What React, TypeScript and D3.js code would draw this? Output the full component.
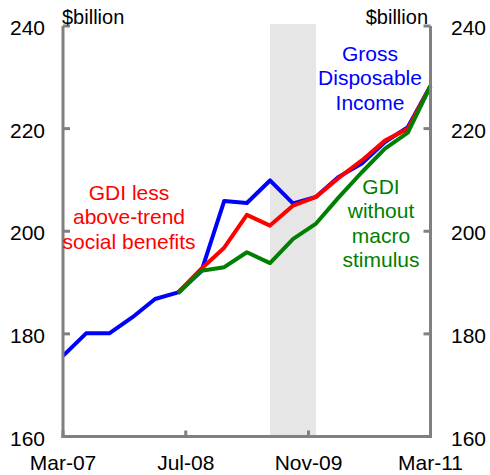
import React from "react";
import * as d3 from "d3";

// quarterly observations, Mar-07 .. Mar-11
const quarters = [
  "2007-03", "2007-06", "2007-09", "2007-12",
  "2008-03", "2008-06", "2008-09", "2008-12",
  "2009-03", "2009-06", "2009-09", "2009-12",
  "2010-03", "2010-06", "2010-09", "2010-12",
  "2011-03",
];

// Gross Disposable Income
const gdi = [175.7, 180.1, 180.1, 183.2, 186.8, 188.1, 192.2, 205.9, 205.5, 209.9, 205.4, 206.7, 210.6, 213.2, 217.4, 220.3, 228.3];
// GDI less above-trend social benefits
const gdiLessBenefits = [null, null, null, null, null, 188.1, 192.7, 196.8, 203.2, 201.1, 205.0, 206.7, 210.4, 213.8, 217.7, 220.0, 228.3];
// GDI without macro stimulus
const gdiNoStimulus = [null, null, null, null, null, 187.9, 192.3, 193.0, 195.9, 193.8, 198.5, 201.5, 206.6, 211.5, 216.1, 219.2, 228.3];

const shadedPeriod = ["2009-06", "2009-12"];
const xTicks = ["2007-03", "2008-07", "2009-11", "2011-03"];
const xTickLabels = ["Mar-07", "Jul-08", "Nov-09", "Mar-11"];
const yTicks = [160, 180, 200, 220, 240];

const series = [
  { name: "gdi", values: gdi, color: "#0000ff", label: ["Gross", "Disposable", "Income"], lx: 370, ly: 61 },
  { name: "less", values: gdiLessBenefits, color: "#ff0000", label: ["GDI less", "above-trend", "social benefits"], lx: 129, ly: 200 },
  { name: "nostim", values: gdiNoStimulus, color: "#008000", label: ["GDI", "without", "macro", "stimulus"], lx: 381, ly: 194 },
];

const parse = d3.timeParse("%Y-%m");
const font = "'Liberation Sans', Arial, sans-serif";

const App = () => {
  const svgRef = React.useRef(null);
  const width = 490;
  const height = 475;
  const left = 63, right = 430.5, top = 26, bottom = 436.5;

  React.useEffect(() => {
    const x = d3.scaleTime()
      .domain([parse(quarters[0]), parse(quarters[quarters.length - 1])])
      .range([left, right]);
    const y = d3.scaleLinear().domain([160, 240]).range([bottom, top]);

    const svg = d3.select(svgRef.current);
    svg.selectAll("*").remove();

    // shaded period
    svg.append("rect")
      .attr("x", x(parse(shadedPeriod[0])))
      .attr("y", top - 2)
      .attr("width", x(parse(shadedPeriod[1])) - x(parse(shadedPeriod[0])))
      .attr("height", bottom - top + 2)
      .attr("fill", "#e6e6e6");

    // lines
    const line = d3.line()
      .defined((d) => d != null)
      .x((d, i) => x(parse(quarters[i])))
      .y((d) => y(d));

    series.forEach((s) => {
      svg.append("path")
        .attr("fill", "none")
        .attr("stroke", s.color)
        .attr("stroke-width", 4)
        .attr("stroke-linejoin", "round")
        .attr("d", line(s.values));
    });

    // axes frame
    const axisColor = "#808080";
    const ax = svg.append("g").attr("stroke", axisColor).attr("stroke-width", 3);
    ax.append("line").attr("x1", left).attr("x2", left).attr("y1", top).attr("y2", bottom + 1.5);
    ax.append("line").attr("x1", right).attr("x2", right).attr("y1", top).attr("y2", bottom + 1.5);
    ax.append("line").attr("x1", left - 1.5).attr("x2", right + 1.5).attr("y1", bottom).attr("y2", bottom);

    yTicks.forEach((t) => {
      ax.append("line").attr("x1", left).attr("x2", left + 7).attr("y1", y(t)).attr("y2", y(t));
      ax.append("line").attr("x1", right).attr("x2", right - 7).attr("y1", y(t)).attr("y2", y(t));
    });
    xTicks.forEach((t) => {
      ax.append("line").attr("x1", x(parse(t))).attr("x2", x(parse(t))).attr("y1", bottom).attr("y2", bottom - 6);
    });

    // tick labels
    const txt = svg.append("g").attr("font-family", font).attr("fill", "#000");
    yTicks.forEach((t) => {
      txt.append("text").attr("x", 45).attr("y", y(t) + 9).attr("text-anchor", "end")
        .attr("font-size", 21).text(t);
      txt.append("text").attr("x", 451).attr("y", y(t) + 9).attr("text-anchor", "start")
        .attr("font-size", 21).text(t);
    });
    xTicks.forEach((t, i) => {
      txt.append("text").attr("x", x(parse(t))).attr("y", 470).attr("text-anchor", "middle")
        .attr("font-size", 21).text(xTickLabels[i]);
    });
    txt.append("text").attr("x", 62).attr("y", 24).attr("font-size", 20).text("$billion");
    txt.append("text").attr("x", 428).attr("y", 24).attr("text-anchor", "end").attr("font-size", 20).text("$billion");

    // series labels
    series.forEach((s) => {
      const g = svg.append("text")
        .attr("font-family", font)
        .attr("font-size", 21)
        .attr("fill", s.color)
        .attr("text-anchor", "middle");
      s.label.forEach((l, i) => {
        g.append("tspan").attr("x", s.lx).attr("y", s.ly + i * 24.3).text(l);
      });
    });
  }, []);

  return (
    <svg
      ref={svgRef}
      width={width}
      height={height}
      style={{ position: "absolute", left: 0, top: 0, background: "#fff" }}
    />
  );
};

export default App;
